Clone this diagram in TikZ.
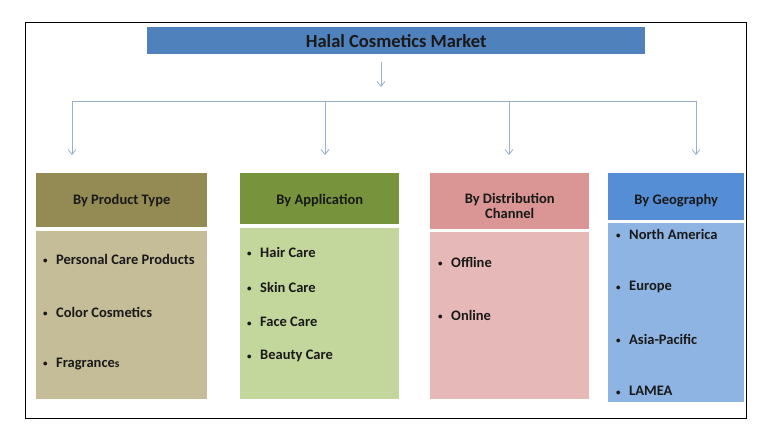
\documentclass[tikz,border=0pt]{standalone}
\usepackage{fontspec}
\setmainfont{Carlito}
\usetikzlibrary{arrows.meta}

\definecolor{titleblue}{HTML}{4F81BD}
\definecolor{linkblue}{HTML}{98AECB}
\definecolor{olivehead}{HTML}{948A54}
\definecolor{olivebody}{HTML}{C4BD97}
\definecolor{greenhead}{HTML}{77933C}
\definecolor{greenbody}{HTML}{C3D69B}
\definecolor{rosehead}{HTML}{D99694}
\definecolor{rosebody}{HTML}{E6B9B8}
\definecolor{geohead}{HTML}{558ED5}
\definecolor{geobody}{HTML}{8DB4E2}

\newcommand{\dotitem}{\makebox[13pt][l]{\fontsize{9}{9}\selectfont\raisebox{0.5pt}{\textbullet}}}

\begin{document}
\begin{tikzpicture}[x=1pt,y=-1pt,>={Straight Barb[length=5pt,width=8pt]},
  every node/.style={inner sep=0pt, text=black!90, font=\bfseries\fontsize{14.5}{17}\selectfont},
  box/.style={anchor=north west, align=center}]
  \tikzstyle{link}=[linkblue, line width=0.8pt]
  \tikzstyle{item}=[anchor=west]

\useasboundingbox (0,0) rectangle (774,441);
\draw[line width=0.8pt] (25,22) rectangle (746,418);

\node [box, fill=titleblue, minimum width=498pt, minimum height=27pt,
  font=\bfseries\fontsize{18.5}{20}\selectfont] (title) at (147,27) {Halal Cosmetics Market};

% headers
\node [box, fill=olivehead, minimum width=171pt, minimum height=54pt] (prod) at (36,173) {By Product Type};
\node [box, fill=greenhead, minimum width=159pt, minimum height=51pt] (appl) at (240,173) {\rule{0pt}{13pt}By Application};
\node [box, fill=rosehead, minimum width=159pt, minimum height=56pt,
  font=\bfseries\fontsize{14.5}{15.5}\selectfont] (dist) at (430,173) {\rule{0pt}{20pt}By Distribution\\Channel};
\node [box, fill=geohead, minimum width=136pt, minimum height=47pt] (geo) at (608,173) {\rule{0pt}{19pt}By Geography};

% bodies
\node [box, fill=olivebody, minimum width=171pt, minimum height=168pt] (prodb) at (36,231) {};
\node [box, fill=greenbody, minimum width=159pt, minimum height=171pt] (applb) at (240,228) {};
\node [box, fill=rosebody, minimum width=159pt, minimum height=167pt] (distb) at (430,232) {};
\node [box, fill=geobody, minimum width=136pt, minimum height=179pt] (geob) at (608,223) {};

\node [item] (p1) at (43,259) {\dotitem Personal Care Products};
\node [item] (p2) at (43,312) {\dotitem Color Cosmetics};
\node [item] (p3) at (43,364) {\dotitem Fragrance{\fontsize{11.5}{12}\selectfont s}};

\node [item] (a1) at (247,252) {\dotitem Hair Care};
\node [item] (a2) at (247,287) {\dotitem Skin Care};
\node [item] (a3) at (247,322) {\dotitem Face Care};
\node [item] (a4) at (247,356) {\dotitem Beauty Care};

\node [item] (d1) at (438,262) {\dotitem Offline};
\node [item] (d2) at (438,315) {\dotitem Online};

\node [item] (g1) at (616,234) {\dotitem North America};
\node [item] (g2) at (616,287) {\dotitem Europe};
\node [item] (g3) at (616,339) {\dotitem Asia-Pacific};
\node [item] (g4) at (616,391) {\dotitem LAMEA};

% connectors
\coordinate (split) at (381,101);
\coordinate (left) at (72,101);
\coordinate (right) at (696,101);

\draw[link, ->, shorten <=8pt, shorten >=14pt] (title.south -| split) -- (split);
\draw[link] (left) -- (right);
\draw[link, ->, shorten >=18pt] (left) -- (left |- prod.north);
\draw[link, ->, shorten >=18pt] (split -| 325,0) -- (325,173);
\draw[link, ->, shorten >=18pt] (split -| 509,0) -- (509,173);
\draw[link, ->, shorten >=18pt] (right) -- (right |- geo.north);

\end{tikzpicture}
\end{document}
